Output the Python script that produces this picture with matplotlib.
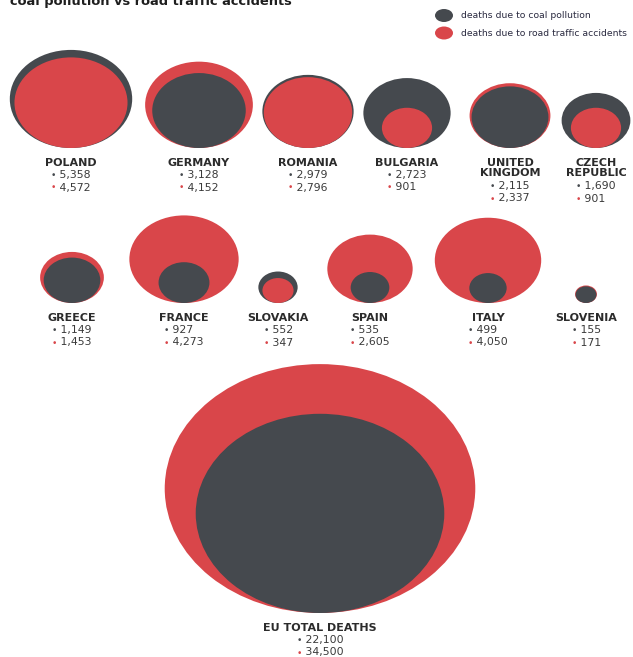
import matplotlib
matplotlib.use("Agg")
import matplotlib.pyplot as plt
from matplotlib.patches import Ellipse
from matplotlib.offsetbox import TextArea, HPacker, VPacker, AnnotationBbox
import numpy as np

# ---------------- data ----------------
title = "coal pollution vs road traffic accidents"
legend_labels = ["deaths due to coal pollution", "deaths due to road traffic accidents"]
countries = ["POLAND", "GERMANY", "ROMANIA", "BULGARIA", "UNITED\nKINGDOM", "CZECH\nREPUBLIC",
             "GREECE", "FRANCE", "SLOVAKIA", "SPAIN", "ITALY", "SLOVENIA"]
coal_deaths = [5358, 3128, 2979, 2723, 2115, 1690, 1149, 927, 552, 535, 499, 155]
road_deaths = [4572, 4152, 2796, 901, 2337, 901, 1453, 4273, 347, 2605, 4050, 171]
total_label = "EU TOTAL DEATHS"
total_coal = 22100
total_road = 34500

# ---------------- layout (pixels) ----------------
W, H = 633, 657
centers_x = [71, 199, 308, 407, 510, 596, 72, 184, 278, 370, 488, 586]
bottoms_y = [148] * 6 + [303] * 6
total_cx, total_bottom = 320, 613
KX, KY = 1.672, 1.34   # px per sqrt(death) horizontally / vertically

COAL = "#45494e"
ROAD = "#d9464a"
TXT = "#2b2b2b"
VAL = "#3a3a3a"
FONT = "DejaVu Sans"

fig = plt.figure(figsize=(W / 100, H / 100), dpi=100)
ax = fig.add_axes([0, 0, 1, 1])
ax.set_xlim(0, W)
ax.set_ylim(H, 0)
ax.axis("off")


def nested(cx, bottom, coal, road):
    items = sorted([(coal, COAL), (road, ROAD)], key=lambda t: -t[0])
    for v, c in items:
        w = KX * np.sqrt(v)
        h = KY * np.sqrt(v)
        ax.add_patch(Ellipse((cx, bottom - h / 2), w, h, facecolor=c, edgecolor="none"))


def labels(cx, bottom, name, coal, road, name_fs=8, val_fs=7.8):
    nlines = name.count("\n") + 1
    ax.text(cx, bottom + 10, name, ha="center", va="top", fontsize=name_fs,
            fontweight="bold", family=FONT, color=TXT, linespacing=1.05)
    rows = []
    for v, c in [(coal, COAL), (road, ROAD)]:
        rows.append(HPacker(children=[
            TextArea("\u2022", textprops=dict(color=c, fontsize=val_fs * 0.85, family=FONT)),
            TextArea(" " + f"{v:,}", textprops=dict(color=VAL, fontsize=val_fs, family=FONT)),
        ], sep=0, pad=0, align="baseline"))
    box = VPacker(children=rows, sep=1.8, pad=0, align="left")
    ab = AnnotationBbox(box, (cx, bottom + 10 + 11 * nlines + 1), box_alignment=(0.5, 1),
                        frameon=False, pad=0, xycoords="data")
    ax.add_artist(ab)


for i, name in enumerate(countries):
    nested(centers_x[i], bottoms_y[i], coal_deaths[i], road_deaths[i])
    labels(centers_x[i], bottoms_y[i], name, coal_deaths[i], road_deaths[i])

nested(total_cx, total_bottom, total_coal, total_road)
labels(total_cx, total_bottom, total_label, total_coal, total_road)

# title (partially cropped at top like the reference)
ax.text(10, 4.5, title, ha="left", va="baseline", fontsize=9.4, fontweight="bold",
        family=FONT, color="#1e1e1e")

# legend
for j, (lab, c) in enumerate(zip(legend_labels, [COAL, ROAD])):
    y = 15.5 + 17.5 * j
    ax.add_patch(Ellipse((444, y), 18, 13, facecolor=c, edgecolor="none"))
    ax.text(461, y, lab, ha="left", va="center", fontsize=6.7, family=FONT, color="#2a2a40")

fig.savefig("out.png", dpi=100)
